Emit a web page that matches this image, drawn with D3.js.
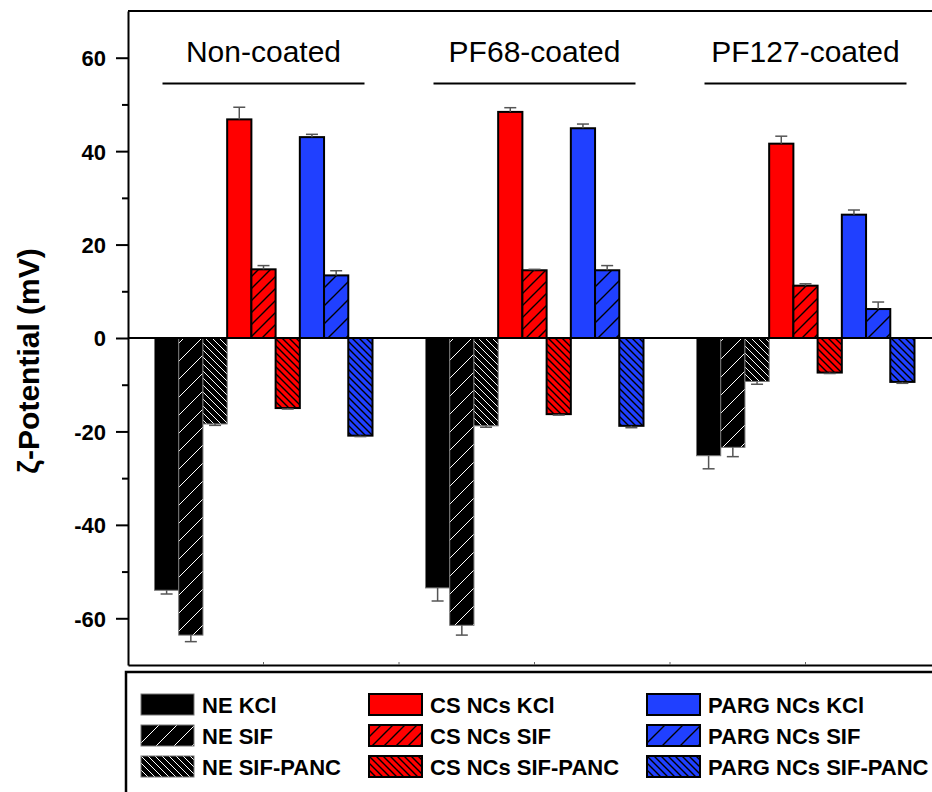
<html>
<head>
<meta charset="utf-8">
<title>Zeta potential</title>
<style>
  body { margin: 0; background: #fff; }
  text { font-family: "Liberation Sans", Arial, sans-serif; }
</style>
</head>
<body>
<div id="chart"></div>
<script src="https://d3js.org/d3.v7.min.js"></script>
<script>
    var groups = ["Non-coated", "PF68-coated", "PF127-coated"];

    var series = ["NE KCl", "NE SIF", "NE SIF-PANC",
                  "CS NCs KCl", "CS NCs SIF", "CS NCs SIF-PANC",
                  "PARG NCs KCl", "PARG NCs SIF", "PARG NCs SIF-PANC"];

    // one value per group (Non-coated, PF68, PF127)
    var neKCl      = [-54.0, -53.5, -25.2];
    var neSIF      = [-63.6, -61.5, -23.4];
    var neSIFPANC  = [-18.4, -18.8, -9.3];
    var csKCl      = [46.8, 48.4, 41.6];
    var csSIF      = [14.7, 14.5, 11.2];
    var csSIFPANC  = [-15.0, -16.3, -7.4];
    var pgKCl      = [43.0, 44.9, 26.4];
    var pgSIF      = [13.4, 14.5, 6.2];
    var pgSIFPANC  = [-20.9, -18.8, -9.4];

    var neKClErr     = [0.8, 2.8, 2.8];
    var neSIFErr     = [1.4, 2.1, 2.0];
    var neSIFPANCErr = [0.3, 0.3, 0.6];
    var csKClErr     = [2.6, 0.9, 1.6];
    var csSIFErr     = [0.8, 0.2, 0.4];
    var csSIFPANCErr = [0.2, 0.2, 0.2];
    var pgKClErr     = [0.6, 0.9, 1.0];
    var pgSIFErr     = [1.0, 1.0, 1.5];
    var pgSIFPANCErr = [0.2, 0.4, 0.3];

    var yMajor = [-60, -40, -20, 0, 20, 40, 60];
    var yMinor = [-50, -30, -10, 10, 30, 50];

    var values = [neKCl, neSIF, neSIFPANC, csKCl, csSIF, csSIFPANC, pgKCl, pgSIF, pgSIFPANC];
    var errors = [neKClErr, neSIFErr, neSIFPANCErr, csKClErr, csSIFErr, csSIFPANCErr, pgKClErr, pgSIFErr, pgSIFPANCErr];

    var width = 932,
        height = 792;

    var plotLeft = 128, plotTop = 11, plotBottom = 665, plotRight = 941;

    var svg = d3.select("#chart")
            .append("svg")
            .attr("width", width)
            .attr("height", height);

    var x = d3.scaleBand()
            .domain(groups)
            .range([plotLeft, plotRight])
            .padding(0);

    var inner = d3.scaleBand()
            .domain(series)
            .range([26.5, x.bandwidth() - 26.5])
            .padding(0);

    var y = d3.scaleLinear()
            .domain([-70, 70])
            .range([plotBottom, plotTop]);

    // fills: base colour + hatch kind
    var colors = ["#000", "#000", "#000", "#ff0000", "#ff0000", "#ff0000", "#2040ff", "#2040ff", "#2040ff"];
    var hatch = ["none", "fwd", "back", "none", "fwd", "back", "none", "fwd", "back"];
    var hatchGap = [0, 18, 7, 0, 12, 7, 0, 18, 7];

    var defs = svg.append("defs");

    series.forEach(function(s, i) {
        if (hatch[i] == "none") return;
        var g = hatchGap[i];
        var lineColor = colors[i] == "#000" ? "#fff" : "#000";
        var p = defs.append("pattern")
            .attr("id", "pat" + i)
            .attr("patternUnits", "userSpaceOnUse")
            .attr("width", g)
            .attr("height", g);
        p.append("rect").attr("width", g).attr("height", g).attr("fill", colors[i]);
        var d = hatch[i] == "fwd"
            ? "M0," + g + "L" + g + ",0M-2,2L2,-2M" + (g - 2) + "," + (g + 2) + "L" + (g + 2) + "," + (g - 2)
            : "M0,0L" + g + "," + g + "M-2," + (g - 2) + "L2," + (g + 2) + "M" + (g - 2) + ",-2L" + (g + 2) + ",2";
        p.append("path")
            .attr("d", d)
            .attr("stroke", lineColor)
            .attr("stroke-width", colors[i] == "#000" ? 1 : 1.4);
    });

    function fillOf(i) {
        return hatch[i] == "none" ? colors[i] : "url(#pat" + i + ")";
    }

    function strokeOf(i) {
        return colors[i] == "#000" ? "#777" : "#000";
    }

    // flatten into bar records
    var bars = [];
    groups.forEach(function(g, gi) {
        series.forEach(function(s, si) {
            bars.push({group: g, series: s, si: si, value: values[si][gi], err: errors[si][gi]});
        });
    });

    // top frame line
    svg.append("line")
       .attr("x1", plotLeft).attr("x2", plotRight)
       .attr("y1", plotTop).attr("y2", plotTop)
       .attr("stroke", "#000").attr("stroke-width", 2);

    // bars
    svg.append("g")
       .selectAll("rect")
       .data(bars)
       .enter().append("rect")
       .attr("x", function(d) { return x(d.group) + inner(d.series); })
       .attr("width", inner.bandwidth())
       .attr("y", function(d) { return y(Math.max(0, d.value)); })
       .attr("height", function(d) { return Math.abs(y(d.value) - y(0)); })
       .attr("fill", function(d) { return fillOf(d.si); })
       .attr("stroke", function(d) { return strokeOf(d.si); })
       .attr("stroke-width", function(d) { return colors[d.si] == "#000" ? 1 : 2; });

    // one-sided error bars
    function errEnd(d) {
        return y(d.value + (d.value < 0 ? -d.err : d.err));
    }

    var eb = svg.append("g")
       .attr("stroke", "#555")
       .attr("stroke-width", 1.5)
       .selectAll("g")
       .data(bars)
       .enter().append("g")
       .attr("transform", function(d) { return "translate(" + (x(d.group) + inner(d.series) + inner.bandwidth() / 2) + ",0)"; });

    eb.append("line")
      .attr("y1", function(d) { return y(d.value); })
      .attr("y2", errEnd);

    eb.append("line")
      .attr("x1", -6).attr("x2", 6)
      .attr("y1", errEnd)
      .attr("y2", errEnd);

    // zero line
    svg.append("line")
       .attr("x1", plotLeft).attr("x2", plotRight)
       .attr("y1", y(0)).attr("y2", y(0))
       .attr("stroke", "#000").attr("stroke-width", 2);

    // y axis
    var yAxis = svg.append("g")
       .attr("transform", "translate(" + plotLeft + ",0)")
       .call(d3.axisLeft(y).tickValues(yMajor).tickSize(12).tickSizeOuter(0).tickPadding(10)
               .tickFormat(function(d) { return String(d); }));

    yAxis.select(".domain").attr("stroke-width", 2);
    yAxis.selectAll(".tick line").attr("stroke-width", 2);
    yAxis.selectAll(".tick text")
       .style("font-family", "'Liberation Sans', Arial, sans-serif")
       .style("font-size", "22px")
       .style("font-weight", "bold")
       .attr("dy", "0.36em");

    var yMinorAxis = svg.append("g")
       .attr("transform", "translate(" + plotLeft + ",0)")
       .call(d3.axisLeft(y).tickValues(yMinor).tickSize(6).tickSizeOuter(0).tickFormat(""));
    yMinorAxis.select(".domain").remove();
    yMinorAxis.selectAll(".tick line").attr("stroke-width", 2);

    // x axis (no labels, small inward ticks)
    var xAxis = svg.append("g")
       .attr("transform", "translate(0," + plotBottom + ")")
       .call(d3.axisBottom(x).tickSize(-3).tickSizeOuter(0).tickFormat(""));
    xAxis.select(".domain").attr("stroke-width", 2);
    xAxis.selectAll(".tick line").attr("stroke", "#666");

    svg.append("g")
       .selectAll("line")
       .data(groups)
       .enter().append("line")
       .attr("x1", function(d) { return x(d) + x.bandwidth(); })
       .attr("x2", function(d) { return x(d) + x.bandwidth(); })
       .attr("y1", plotBottom).attr("y2", plotBottom - 3)
       .attr("stroke", "#666");

    // y label
    svg.append("text")
       .attr("transform", "translate(39,361) rotate(-90)")
       .attr("text-anchor", "middle")
       .style("font-size", "30px")
       .style("font-weight", "bold")
       .text("\u03b6-Potential (mV)");

    // group titles + underline
    var titles = svg.append("g")
       .selectAll("g")
       .data(groups)
       .enter().append("g")
       .attr("transform", function(d) { return "translate(" + (x(d) + x.bandwidth() / 2) + ",0)"; });

    titles.append("text")
       .attr("y", 62)
       .attr("text-anchor", "middle")
       .style("font-size", "30px")
       .text(function(d) { return d; });

    titles.append("line")
       .attr("x1", -101).attr("x2", 101)
       .attr("y1", 83.5).attr("y2", 83.5)
       .attr("stroke", "#000").attr("stroke-width", 1.8);

    // legend
    svg.append("rect")
       .attr("x", 126).attr("y", 672)
       .attr("width", 900).attr("height", 200)
       .attr("fill", "#fff")
       .attr("stroke", "#000").attr("stroke-width", 2.5);

    var colX = [141, 369, 647];
    var rowY = [694, 725, 756];

    var legend = svg.append("g")
       .selectAll("g")
       .data(series)
       .enter().append("g")
       .attr("transform", function(d, i) { return "translate(" + colX[Math.floor(i / 3)] + "," + rowY[i % 3] + ")"; });

    legend.append("rect")
       .attr("width", 53).attr("height", 21)
       .attr("fill", function(d, i) { return fillOf(i); })
       .attr("stroke", function(d, i) { return strokeOf(i); })
       .attr("stroke-width", function(d, i) { return colors[i] == "#000" ? 1 : 2; });

    legend.append("text")
       .attr("x", 61).attr("y", 19)
       .style("font-size", "22px")
       .style("font-weight", "bold")
       .text(function(d) { return d; });
</script>
</body>
</html>
